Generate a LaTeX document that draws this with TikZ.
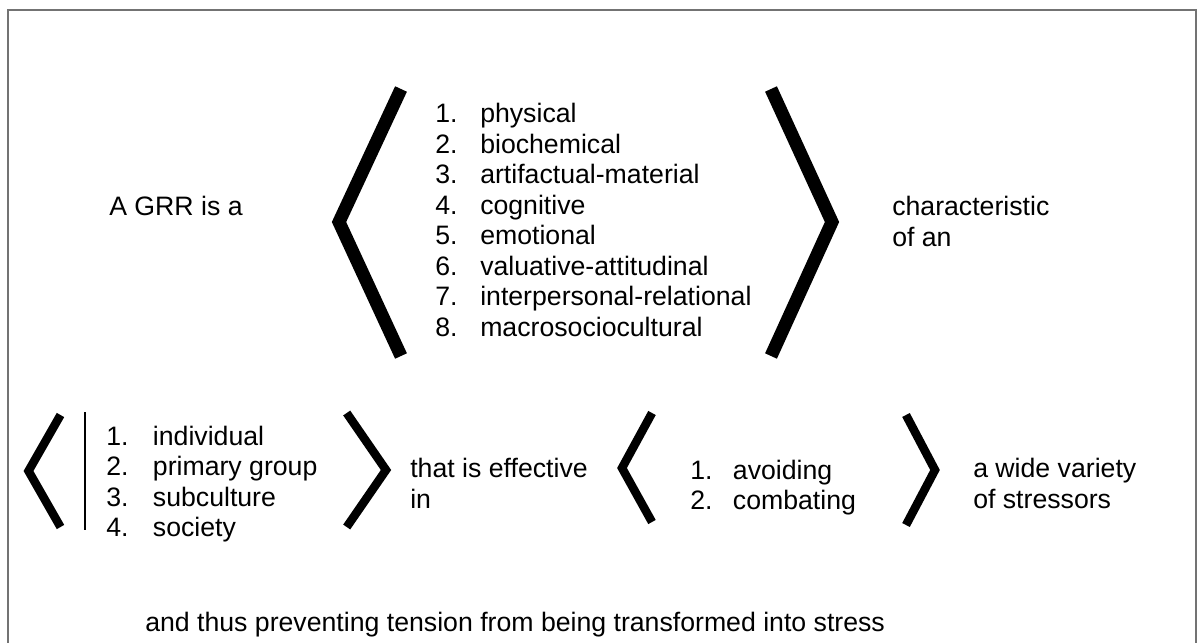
\documentclass[tikz,border=0pt]{standalone}
\usepackage{fontspec}
\setmainfont{Liberation Sans}
\begin{document}
\begin{tikzpicture}[x=0.75pt,y=-0.75pt,
  txt/.style={anchor=base west, inner sep=0pt, font=\fontsize{20}{23}\selectfont},
  bigchev/.style={line width=9.75pt, line join=miter, line cap=butt},
  smallchev/.style={line width=6.4pt, line join=miter, line cap=butt},
  bar/.style={line width=1.9pt},
  frame/.style={draw=black!55, line width=0.9pt}]
\useasboundingbox (0,0) rectangle (1198,642);

% outer frame (runs past the lower edge)
\draw[frame] (8,660) -- (8,10) -- (1196,10) -- (1196,660);

% ---- upper row ----
\node[txt] (grr) at (109,215) {A GRR is a};

\draw[bigchev] (401,89) -- (339,222) -- (401,356);
\foreach \t [count=\i] in {physical, biochemical, artifactual-material, cognitive,
    emotional, valuative-attitudinal, interpersonal-relational, macrosociocultural}
  \node[txt] (res-\i) at (435,{122.5+30.5*(\i-1)}) {\makebox[33.75pt][l]{\i.}\t};
\draw[bigchev] (771,89) -- (832,222) -- (771,356);

\node[txt] (char1) at (892,215) {characteristic};
\node[txt] (char2) at (892,246.5) {of an};

% ---- lower row ----
\draw[smallchev] (60.5,415) -- (28.5,471) -- (60.5,527);
\draw[bar] (85,412) -- (85,530);
\foreach \t [count=\i] in {individual, primary group, subculture, society}
  \node[txt] (lvl-\i) at (106,{445+30.6*(\i-1)}) {\makebox[35pt][l]{\i.}\t};
\draw[smallchev] (346.7,413) -- (386,470) -- (346.7,527);

\node[txt] (eff1) at (410,477) {that is effective};
\node[txt] (eff2) at (410,508) {in};

\draw[smallchev] (652,413) -- (622,468) -- (652,522);
\foreach \t [count=\i] in {avoiding, combating}
  \node[txt] (act-\i) at (690,{479+30*(\i-1)}) {\makebox[32pt][l]{\i.}\t};
\draw[smallchev] (906,415) -- (935,470) -- (906,525);

\node[txt] (var1) at (973,477) {a wide variety};
\node[txt] (var2) at (973,508) {of stressors};

% ---- closing line ----
\node[txt] (thus) at (145,631) {and thus preventing tension from being transformed into stress};
\end{tikzpicture}
\end{document}
